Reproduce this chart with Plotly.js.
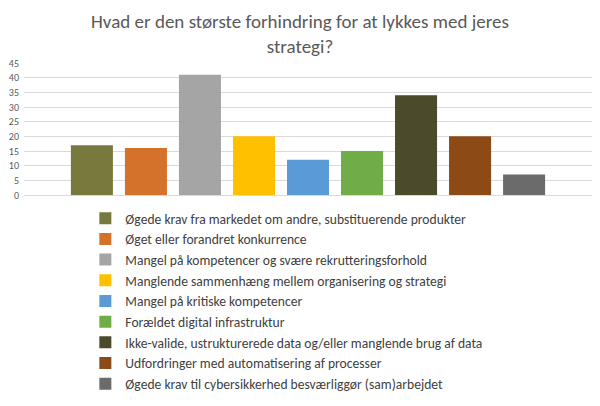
<!DOCTYPE html>
<html>
<head>
<meta charset="utf-8">
<script src="https://cdn.plot.ly/plotly-3.0.1.min.js"></script>
<style>html,body{margin:0;padding:0;background:#fff;}#chart{width:600px;height:406px;}</style>
</head>
<body>
<div id="chart"></div>
<script>
const titleText = 'Hvad er den største forhindring for at lykkes med jeres<br>strategi?';
const groupLabel = ['Svar'];
const seriesNames = [
  'Øgede krav fra markedet om andre, substituerende produkter',
  'Øget eller forandret konkurrence',
  'Mangel på kompetencer og svære rekrutteringsforhold',
  'Manglende sammenhæng mellem organisering og strategi',
  'Mangel på kritiske kompetencer',
  'Forældet digital infrastruktur',
  'Ikke-valide, ustrukturerede data og/eller manglende brug af data',
  'Udfordringer med automatisering af processer',
  'Øgede krav til cybersikkerhed besværliggør (sam)arbejdet'
];
const seriesValues = [17, 16, 41, 20, 12, 15, 34, 20, 7];
const seriesColors = ['#78793d', '#d4712a', '#a5a5a5', '#ffc000', '#5b9bd5', '#70ad47', '#4b4b2b', '#8c4a16', '#6b6b6b'];
const yTicks = [0, 5, 10, 15, 20, 25, 30, 35, 40, 45];

const font = 'Carlito, Lato, "Open Sans", sans-serif';
const traces = seriesNames.map((name, i) => ({
  type: 'bar',
  name: name,
  x: groupLabel,
  y: [seriesValues[i]],
  marker: {color: seriesColors[i]},
  hoverinfo: 'y+name'
}));

const layout = {
  width: 600, height: 406,
  margin: {l: 24, r: 8, t: 63, b: 211, autoexpand: false},
  paper_bgcolor: '#fff', plot_bgcolor: '#fff',
  font: {family: font, color: '#595959'},
  title: {text: titleText, font: {family: font, size: 19, color: '#595959'}, x: 0.5, xanchor: 'center', y: 0.93, yanchor: 'middle', automargin: false},
  barmode: 'group',
  bargap: 0.144,
  bargroupgap: 0.222,
  xaxis: {showticklabels: false, showgrid: false, zeroline: false, showline: false, ticks: ''},
  yaxis: {range: [0, 45], tickvals: yTicks, ticktext: yTicks.map(String), showgrid: true, gridcolor: '#d9d9d9', gridwidth: 1,
          zeroline: true, zerolinecolor: '#d9d9d9', showline: false, ticks: '', tickfont: {size: 10, color: '#595959'}, ticklabelstandoff: 4},
  showlegend: true,
  legend: {orientation: 'v', x: 0.108, xanchor: 'left', y: -0.06, yanchor: 'top', font: {size: 13.6, color: '#404040'}, traceorder: 'normal', itemwidth: 30, tracegroupgap: 0, bgcolor: 'rgba(0,0,0,0)'}
};

Plotly.newPlot('chart', traces, layout, {displayModeBar: false, staticPlot: true});
</script>
</body>
</html>
